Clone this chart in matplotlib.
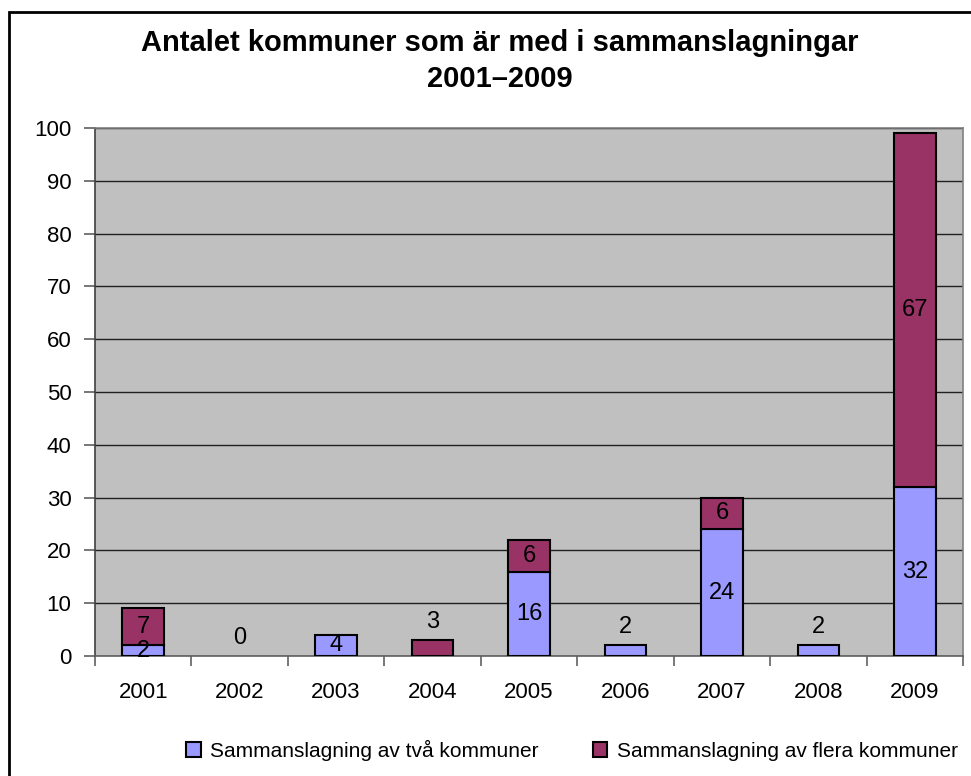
import matplotlib.pyplot as plt
from matplotlib.patches import Rectangle, Patch

years = ['2001', '2002', '2003', '2004', '2005', '2006', '2007', '2008', '2009']
tva = [2, 0, 4, 0, 16, 2, 24, 2, 32]
flera = [7, 0, 0, 3, 6, 0, 6, 0, 67]
# år där Excel satte etiketten ovanför stapeln
above = ['2002', '2004', '2006', '2008']

blue = '#9999FF'
maroon = '#993366'

plt.rcParams['font.family'] = ['Liberation Sans', 'DejaVu Sans']

fig = plt.figure(figsize=(9.71, 7.76), dpi=100)
ax = fig.add_axes([95 / 971, 1 - 656 / 776, (963 - 95) / 971, (656 - 128) / 776])

# ram runt diagrammet
fig.patches.append(Rectangle((8.5 / 971, -0.2), 1.2, 1.2 - 12 / 776,
                             transform=fig.transFigure, fill=False,
                             edgecolor='black', linewidth=2, clip_on=False))

ax.set_facecolor('#C0C0C0')
# nollvärden ritas inte
i1 = [i for i in range(len(years)) if tva[i]]
i2 = [i for i in range(len(years)) if flera[i]]
ax.bar(i1, [tva[i] for i in i1], width=0.43, color=blue, edgecolor='black',
       linewidth=1.5, zorder=3)
ax.bar(i2, [flera[i] for i in i2], width=0.43, bottom=[tva[i] for i in i2],
       color=maroon, edgecolor='black', linewidth=1.5, zorder=3)

for i, y in enumerate(years):
    if y in above:
        total = tva[i] + flera[i]
        val = tva[i] if tva[i] or not flera[i] else flera[i]
        ax.annotate(str(val), (i, total), xytext=(0, 13), textcoords='offset points',
                    ha='center', va='center', fontsize=17, zorder=5)
        continue
    if tva[i]:
        ax.text(i, tva[i] / 2, str(tva[i]), ha='center', va='center', fontsize=17, zorder=5)
    if flera[i]:
        ax.text(i, tva[i] + flera[i] / 2, str(flera[i]), ha='center', va='center',
                fontsize=17, zorder=5)

ax.set_ylim(0, 100)
ax.set_xlim(-0.5, len(years) - 0.5)
ax.set_yticks(range(0, 101, 10))
ax.yaxis.grid(True, color='#202020', linewidth=1)
ax.set_axisbelow(True)
ax.set_xticks(list(range(len(years))))
ax.set_xticklabels(years)
ax.set_xticks([i + 0.5 for i in range(-1, len(years))], minor=True)
ax.tick_params(axis='x', which='major', length=0, pad=19, labelsize=16)
ax.tick_params(axis='x', which='minor', length=7, width=1.2, color='#606060', direction='out')
ax.tick_params(axis='y', length=8, width=1.2, color='#606060', labelsize=16, pad=9)
for s in ax.spines.values():
    s.set_color('#808080')
    s.set_linewidth(1.2)
ax.spines['bottom'].set_color('#606060')
ax.spines['left'].set_color('#404040')

fig.text(500 / 971, 1 - 61 / 776, 'Antalet kommuner som är med i sammanslagningar\n2001–2009',
         ha='center', va='center', fontsize=21, fontweight='bold', linespacing=1.32)

handles = [Patch(facecolor=blue, edgecolor='black', linewidth=1.5),
           Patch(facecolor=maroon, edgecolor='black', linewidth=1.5)]
fig.legend(handles, ['Sammanslagning av två kommuner', 'Sammanslagning av flera kommuner'],
           loc='center', bbox_to_anchor=(572 / 971, 1 - 750 / 776), ncol=2, frameon=False,
           fontsize=15, handlelength=0.7, handleheight=0.7, handletextpad=0.45,
           columnspacing=2.6)

fig.savefig('out.png', dpi=100)
